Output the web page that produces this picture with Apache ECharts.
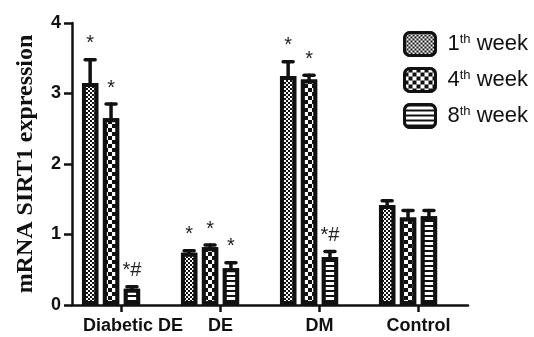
<!DOCTYPE html>
<html><head><meta charset="utf-8">
<script src="https://cdn.jsdelivr.net/npm/echarts@6/dist/echarts.min.js"></script>
<style>html,body{margin:0;padding:0;background:#fff}#c{width:534px;height:337px}</style>
</head><body><div id="c"></div>
<script>
const categories = ['Diabetic DE', 'DE', 'DM', 'Control'];
const seriesNames = ['1th week', '4th week', '8th week'];
const week1 = [3.15, 0.74, 3.25, 1.42];
const week4 = [2.65, 0.82, 3.20, 1.24];
const week8 = [0.23, 0.52, 0.68, 1.26];
const err1 = [0.33, 0.03, 0.20, 0.06];
const err4 = [0.20, 0.03, 0.06, 0.10];
const err8 = [0.03, 0.08, 0.08, 0.08];
const marks1 = ['*', '*', '*', ''];
const marks4 = ['*', '*', '*', ''];
const marks8 = ['*#', '*', '*#', ''];
const yTicks = [0, 1, 2, 3, 4];

const BAR_FRAC = 0.165;
const GAP = 0.28;

const decals = [
  { symbol: 'rect', symbolSize: 1, dashArrayX: [[2, 2], [0, 2, 2, 0]], dashArrayY: [2, 0], color: '#111', backgroundColor: '#fff' },
  { symbol: 'rect', symbolSize: 1, dashArrayX: [[4, 4], [0, 4, 4, 0]], dashArrayY: [4, 0], color: '#111', backgroundColor: '#fff' },
  { symbol: 'rect', symbolSize: 1, dashArrayX: [[20, 0]], dashArrayY: [1.5, 3], color: '#111', backgroundColor: '#fff' }
];
const values = [week1, week4, week8];
const errs = [err1, err4, err8];
const marks = [marks1, marks4, marks8];

const barSeries = values.map((vals, k) => ({
  name: seriesNames[k],
  type: 'bar',
  barWidth: (BAR_FRAC * 100) + '%',
  barGap: (GAP * 100) + '%',
  data: vals,
  itemStyle: { color: '#fff', borderColor: '#111', borderWidth: 4, decal: decals[k] },
  emphasis: { disabled: true }
}));
// placeholder slot so that ticks fall between the 2nd and 3rd bars
barSeries.push({ name: 'pad', type: 'bar', barWidth: (BAR_FRAC * 100) + '%', barGap: (GAP * 100) + '%', data: ['-', '-', '-', '-'], silent: true });

const errSeries = values.map((vals, k) => ({
  type: 'custom',
  silent: true,
  z: 5,
  data: vals.map((v, i) => [i, v, errs[k][i]]),
  renderItem: function (params, api) {
    const cat = api.value(0), v = api.value(1), e = api.value(2);
    const band = api.size([1, 0])[0];
    const bw = band * BAR_FRAC;
    const off = (k - 1.5) * bw * (1 + GAP);
    const p0 = api.coord([cat, v]);
    const p1 = api.coord([cat, v + e]);
    const x = p0[0] + off;
    const capW = 5;
    const st = { stroke: '#111', lineWidth: 3.5, lineCap: 'round' };
    const children = [
      { type: 'line', shape: { x1: x, y1: p0[1], x2: x, y2: p1[1] }, style: st },
      { type: 'line', shape: { x1: x - capW, y1: p1[1], x2: x + capW, y2: p1[1] }, style: st }
    ];
    const m = marks[k][params.dataIndex];
    if (m) {
      children.push({ type: 'text', style: { text: m, x: x, y: p1[1] - 6, align: 'center', verticalAlign: 'bottom', fill: '#222', font: '20px "Liberation Sans", Arial' } });
    }
    return { type: 'group', children: children };
  }
}));

const chart = echarts.init(document.getElementById('c'), null, { renderer: 'canvas' });
chart.setOption({
  backgroundColor: '#fff',
  animation: false,
  grid: { left: 72, right: 66, top: 23, bottom: 32 },
  legend: {
    data: seriesNames,
    orient: 'vertical',
    left: 403,
    top: 31,
    padding: 0,
    itemWidth: 31,
    itemHeight: 23,
    itemGap: 10,
    icon: 'roundRect',
    itemStyle: { borderColor: '#111', borderWidth: 3 },
    selectedMode: false,
    formatter: function (name) {
      const parts = name.split(' ');
      const num = parts[0].replace('th', '');
      return '{a|' + num + '}{s|th}{a| ' + parts[1] + '}';
    },
    textStyle: {
      padding: [0, 0, 0, 7],
      rich: {
        a: { fontSize: 22, fontFamily: '"Liberation Sans", Arial', color: '#111', lineHeight: 23 },
        s: { fontSize: 13, fontFamily: '"Liberation Sans", Arial', color: '#111', verticalAlign: 'top', lineHeight: 23, padding: [0, 0, 9, 0] }
      }
    }
  },
  xAxis: {
    type: 'category',
    data: categories,
    axisLine: { lineStyle: { color: '#111', width: 2.5 } },
    axisTick: { show: true, alignWithLabel: true, length: 7, lineStyle: { color: '#111', width: 2.5 } },
    axisLabel: {
      interval: 0,
      color: '#111', fontWeight: 'bold', fontSize: 18, fontFamily: '"Liberation Sans", Arial', margin: 12,
      formatter: function (v, i) { return i === 0 ? '{f|' + v + '}' : v; },
      rich: { f: { color: '#111', fontWeight: 'bold', fontSize: 18, fontFamily: '"Liberation Sans", Arial', padding: [0, 0, 0, 23] } }
    }
  },
  yAxis: {
    type: 'value',
    min: yTicks[0],
    max: yTicks[yTicks.length - 1],
    interval: 1,
    name: 'mRNA SIRT1 expression',
    nameLocation: 'middle',
    nameGap: 34,
    nameTextStyle: { fontFamily: '"Liberation Serif", "Times New Roman", serif', fontWeight: 'bold', fontSize: 24, color: '#111' },
    axisLine: { show: true, lineStyle: { color: '#111', width: 2.5 } },
    axisTick: { show: true, length: 8, lineStyle: { color: '#111', width: 2.5 } },
    splitLine: { show: false },
    axisLabel: { color: '#111', fontWeight: 'bold', fontSize: 18, fontFamily: '"Liberation Sans", Arial', margin: 11 }
  },
  series: barSeries.concat(errSeries)
});
</script>
</body></html>
